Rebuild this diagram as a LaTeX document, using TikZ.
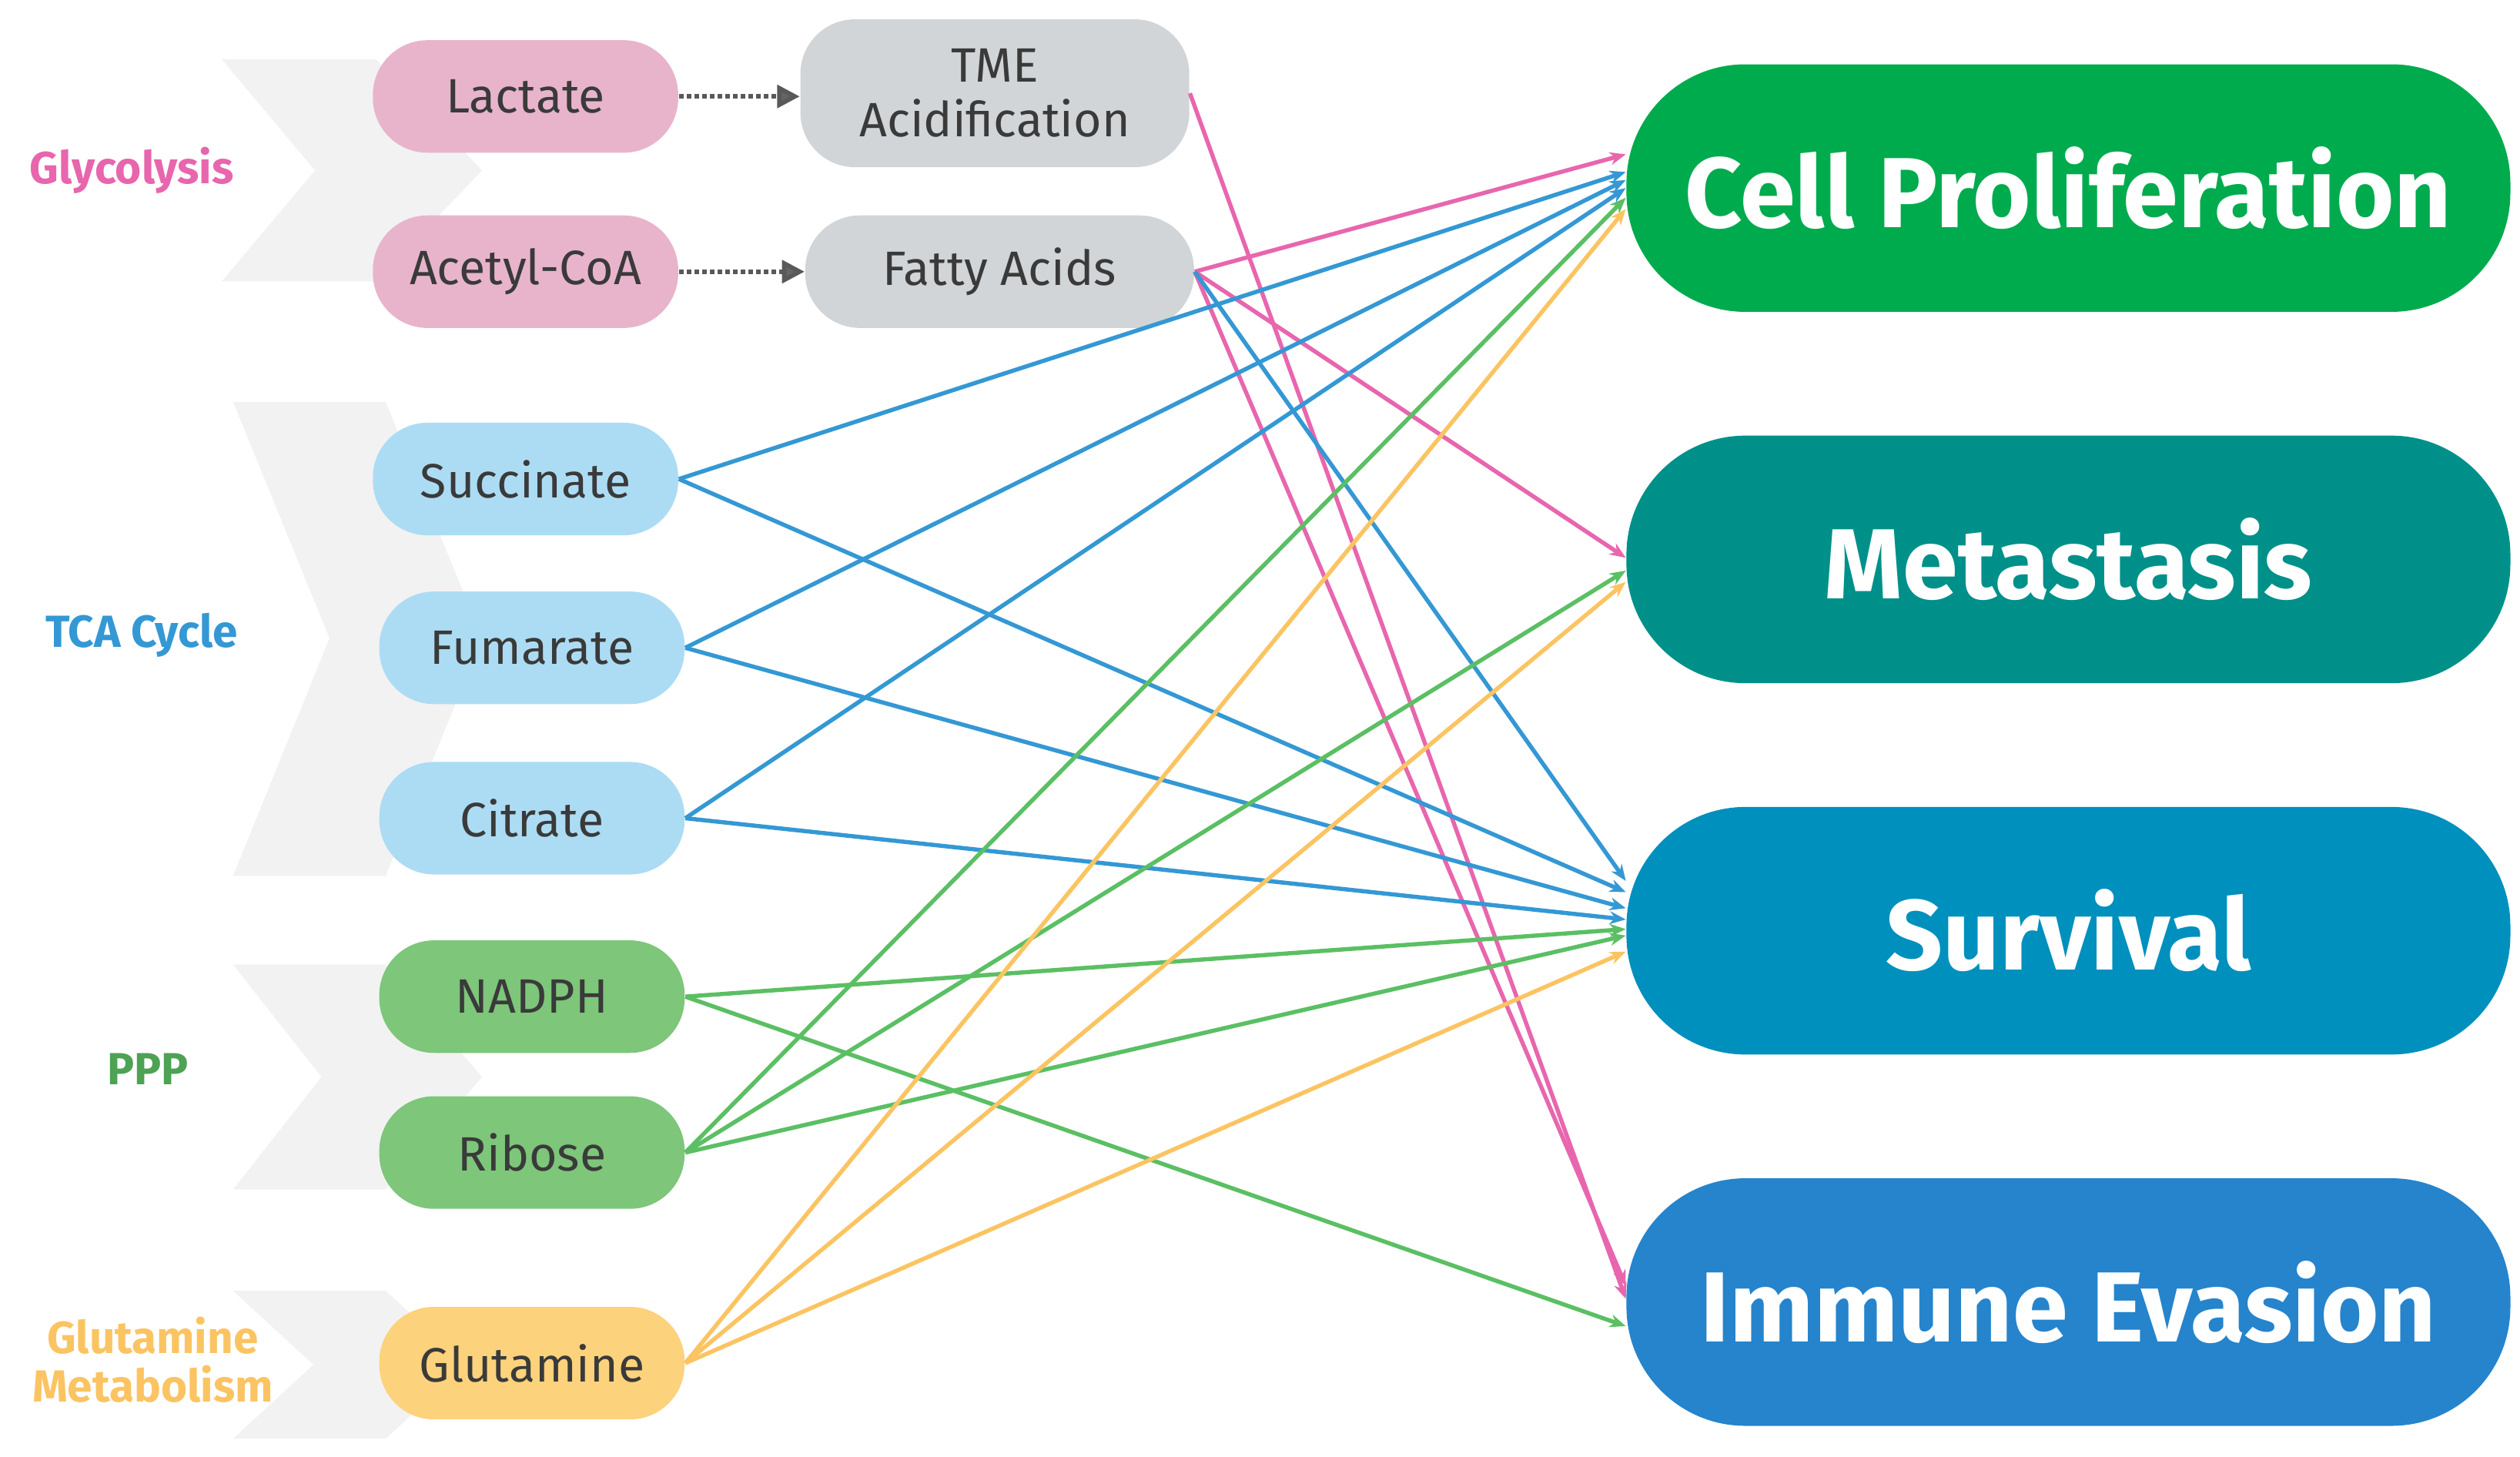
\documentclass[tikz,border=0pt]{standalone}
\usepackage{fontspec}
\setmainfont{Fira Sans}
\usetikzlibrary{arrows.meta,calc}
\definecolor{cpink}{HTML}{E866AE}
\definecolor{cblue}{HTML}{3498D4}
\definecolor{cgreen}{HTML}{5BBF63}
\definecolor{corange}{HTML}{FBC462}
\definecolor{fpink}{HTML}{E8B4CB}
\definecolor{fblue}{HTML}{ACDCF3}
\definecolor{fgreen}{HTML}{7DC67A}
\definecolor{forange}{HTML}{FDD27C}
\definecolor{fgray}{HTML}{D1D5D8}
\definecolor{txt}{HTML}{3A3A3A}
\definecolor{chev}{HTML}{F2F2F2}
\tikzset{
 src/.style={rounded corners=17pt, minimum width=95pt, minimum height=35pt, inner sep=0pt, text=txt, font=\fontsize{15}{17}\selectfont, align=center},
 mid/.style={src, minimum width=121pt, minimum height=35pt},
 tgt/.style={rounded corners=37pt, minimum width=275pt, minimum height=77pt, inner sep=0pt, text=white, font=\fontsize{31}{36}\selectfont\bfseries},
 cat/.style={font=\fontsize{14}{17}\selectfont\bfseries, align=center},
 e/.style={line width=1.3pt, -{Stealth[length=5pt,width=4pt]}},
 dots/.style={densely dotted, line width=1.4pt, draw=gray!70!black, -{Triangle[length=7pt,width=7pt,fill=gray!80!black]}}
}
\begin{document}
\begin{tikzpicture}[x=0.5pt,y=-0.5pt]
\useasboundingbox (0,0) rectangle (1568,906);
% chevrons
\fill[chev] (138,37)--(234,37)--(300,106)--(234,175)--(138,175)--(196,106)--cycle;
\fill[chev] (145,250)--(240,250)--(300,397)--(240,545)--(145,545)--(205,397)--cycle;
\fill[chev] (145,600)--(240,600)--(300,670)--(240,740)--(145,740)--(200,670)--cycle;
\fill[chev] (145,803)--(240,803)--(290,849)--(240,895)--(145,895)--(195,849)--cycle;
% category labels
\node[cat, text=cpink] (glyc) at (82,106) {Glycolysis};
\node[cat, text=cblue] (tca) at (88,395) {TCA Cycle};
\node[cat, text=cgreen!85!black] (ppp) at (92,665) {PPP};
\node[cat, text=corange, align=center] (glm) at (95,846) {Glutamine\\[-2pt]Metabolism};
% source nodes
\node[src, fill=fpink] (lac) at (327,60) {Lactate};
\node[src, fill=fpink] (acc) at (327,169) {Acetyl-CoA};
\node[mid, fill=fgray, minimum height=46pt] (tme) at (619,58) {TME\\Acidification};
\node[mid, fill=fgray] (fa) at (622,169) {Fatty Acids};
\node[src, fill=fblue] (suc) at (327,298) {Succinate};
\node[src, fill=fblue] (fum) at (331,403) {Fumarate};
\node[src, fill=fblue] (cit) at (331,509) {Citrate};
\node[src, fill=fgreen] (nad) at (331,620) {NADPH};
\node[src, fill=fgreen] (rib) at (331,717) {Ribose};
\node[src, fill=forange] (gln) at (331,848) {Glutamine};
% targets
\node[tgt, fill={rgb,255:red,0;green,171;blue,78}] (cp) at (1287,117) {Cell Proliferation};
\node[tgt, fill={rgb,255:red,0;green,144;blue,138}] (met) at (1287,348) {Metastasis};
\node[tgt, fill={rgb,255:red,0;green,144;blue,189}] (sur) at (1287,579) {Survival};
\node[tgt, fill={rgb,255:red,37;green,132;blue,204}] (imm) at (1287,810) {Immune Evasion};
% dotted arrows
\draw[dots] (lac.east) -- (tme.west |- lac.east);
\draw[dots] (acc.east) -- (fa.west);
% edges
\draw[e, cpink] (tme.east) -- ([yshift=1pt]imm.west);
\draw[e, cpink] (fa.east) -- ([yshift=10.5pt]cp.west);
\draw[e, cpink] (fa.east) -- ([yshift=0.5pt]met.west);
\draw[e, cpink] (fa.east) -- ([yshift=5pt]imm.west);
\draw[e, cblue] (fa.east) -- ([yshift=15.5pt]sur.west);
\draw[e, cblue] (suc.east) -- ([yshift=5pt]cp.west);
\draw[e, cblue] (suc.east) -- ([yshift=12pt]sur.west);
\draw[e, cblue] (fum.east) -- ([yshift=2.5pt]cp.west);
\draw[e, cblue] (fum.east) -- ([yshift=7pt]sur.west);
\draw[e, cblue] (cit.east) -- ([yshift=0pt]cp.west);
\draw[e, cblue] (cit.east) -- ([yshift=3.5pt]sur.west);
\draw[e, cgreen] (nad.east) -- ([yshift=0.5pt]sur.west);
\draw[e, cgreen] (nad.east) -- ([yshift=-7.5pt]imm.west);
\draw[e, cgreen] (rib.east) -- ([yshift=-3pt]cp.west);
\draw[e, cgreen] (rib.east) -- ([yshift=-3.5pt]met.west);
\draw[e, cgreen] (rib.east) -- ([yshift=-1.5pt]sur.west);
\draw[e, corange] (gln.east) -- ([yshift=-6.5pt]cp.west);
\draw[e, corange] (gln.east) -- ([yshift=-7pt]met.west);
\draw[e, corange] (gln.east) -- ([yshift=-6.5pt]sur.west);
\end{tikzpicture}
\end{document}
